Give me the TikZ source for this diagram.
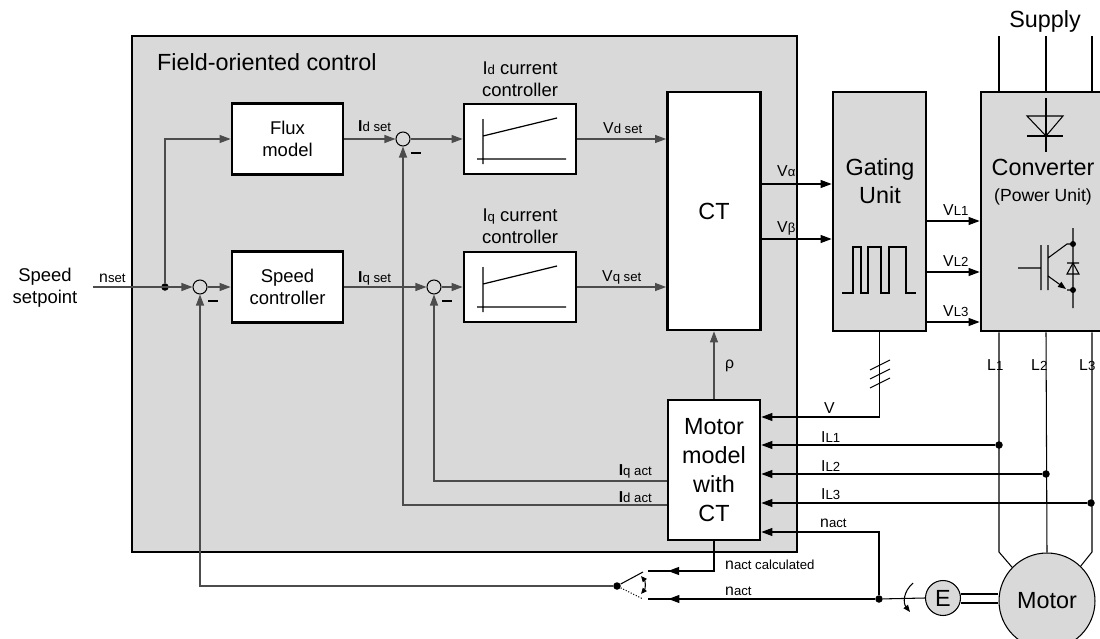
\documentclass[tikz,border=0pt]{standalone}
\usepackage{fontspec}
\setmainfont{Liberation Sans}
\usepackage{tikz}
\usetikzlibrary{arrows.meta,calc,decorations.markings,positioning}
\definecolor{boxgray}{HTML}{D9D9D9}
\newcommand{\ix}[1]{{\fontsize{7.5}{9}\selectfont #1}}
\newcommand{\bigtxt}{\fontsize{13.3}{16.6}\selectfont}
\newcommand{\midtxt}{\fontsize{10.5}{12.3}\selectfont}
\newcommand{\lbltxt}{\fontsize{9}{11}\selectfont}
\tikzset{every node/.append style={font=\lbltxt}}
\tikzset{blk/.style={draw, line width=1.6pt, fill=white, align=center, font=\midtxt},
  unit/.style={blk, fill=boxgray},
  sum/.style={draw, circle, inner sep=0pt, minimum size=0.28cm, fill=boxgray, line width=0.6pt},
  dot/.style={circle, fill, inner sep=0pt, minimum size=1.5mm},
  sig/.style={line width=0.6pt, draw=black!70},
  wire/.style={line width=0.6pt, draw=black},
  minus/.style={line width=1.7pt},
  arrowat/.style={postaction={decorate}, decoration={markings, mark=at position #1 with {\arrow{>}}}}}

\begin{document}
\begin{tikzpicture}[x=0.02cm, y=-0.02cm, >={Triangle[length=2.2mm,width=1.6mm]}]
    \useasboundingbox (0,0) rectangle (1100,639);
    \clip (0,0) rectangle (1100,639);

    % field-oriented control
    \node[draw, line width=1.6pt, fill=boxgray, minimum width=13.3cm, minimum height=10.32cm] at (464.5,294) (foc) {};
    \node[anchor=base west, font=\bigtxt] at (151,71) (foctitle) {Field-oriented control};

    \node[blk, minimum width=2.22cm, minimum height=1.42cm] at (287.5,139) (flux) {Flux\\model};
    \node[blk, minimum width=2.22cm, minimum height=1.42cm] at (287.5,287) (spd) {Speed\\controller};
    \node[blk, minimum width=2.24cm, minimum height=1.4cm] at (520,139) (idc) {};
    \node[blk, minimum width=2.24cm, minimum height=1.4cm] at (520,287) (iqc) {};
    \node[blk, minimum width=1.86cm, minimum height=4.76cm, font=\bigtxt] at (714,211) (ct) {CT};
    \node[blk, minimum width=1.84cm, minimum height=2.8cm, font=\bigtxt] at (714,470) (mm) {Motor\\model\\with\\CT};
    \node[align=center, font=\midtxt] at (520,79) (idtxt) {I\ix{d} current\\controller};
    \node[align=center, font=\midtxt] at (520,226) (iqtxt) {I\ix{q} current\\controller};
    \foreach \b in {idc,iqc}
        \draw[line width=0.7pt, shift={(\b.center)}] (-37,-20) -- (-37,25) (-43,20) -- (46,20) (-37,-3) -- (37,-21);

    \node[sum] at (200,287) (s1) {};
    \node[sum] at (403,139) (s2) {};
    \node[sum] at (434,287) (s3) {};
    \foreach \s in {s1,s2,s3}
        \draw[minus] ($(\s.center)+(8,14)$) -- ++(10,0);
    \node[dot] at (165,287) (d0) {};

    % gating unit and converter
    \node[unit, minimum width=1.86cm, minimum height=4.78cm] at (879.5,211.5) (gate) {};
    \node[unit, minimum width=2.6cm, minimum height=4.78cm] at (1046,211.5) (conv) {};
    \node[anchor=base, font=\bigtxt] at (880,175) (gtxt1) {Gating};
    \node[anchor=base, font=\bigtxt] at (880,203) (gtxt2) {Unit};
    \node[anchor=base, font=\bigtxt] at (1043,175) (ctxt1) {Converter};
    \node[anchor=base, font=\fontsize{10}{12}\selectfont] at (1043,201) (ctxt2) {(Power Unit)};
    \draw[wire] (842,293) -- (853,293) -- (853,247) -- (861,247) -- (861,293) -- (868,293) -- (868,247) -- (881,247)
        -- (881,293) -- (889,293) -- (889,247) -- (906,247) -- (906,293) -- (916,293);
    \draw[wire] (1046,98) -- (1046,152) (1027,136) -- (1063,136);
    \draw[wire] (1027,116) -- (1063,116) -- (1046,136) -- cycle;
    \draw[wire] (1018,268) -- (1041,268) (1041,245) -- (1041,290) (1048,245) -- (1048,290)
        (1048,258) -- (1067,244) -- (1073,244) (1067,290) -- (1073,290) (1073,228) -- (1073,308);
    \draw[wire, -{Triangle[length=1.6mm,width=1.2mm]}] (1048,276) -- (1066,289);
    \draw[wire] (1067,274) -- (1079,274) -- (1073,263) -- cycle (1067,263) -- (1079,263);
    \node[dot, minimum size=1.2mm] at (1073,244) (c1dot) {};
    \node[dot, minimum size=1.2mm] at (1073,290) (c2dot) {};

    % motor and encoder
    \node[draw, circle, fill=boxgray, line width=0.6pt, minimum size=1.92cm, font=\bigtxt] at (1047,601) (motor) {Motor};
    \node[draw, circle, fill=boxgray, line width=0.6pt, minimum size=0.7cm, inner sep=0pt, font=\bigtxt] at (943,598) (enc) {E};
    \draw[wire] (enc.east |- 0,594) -- (motor.west |- 0,594) (enc.east |- 0,603) -- (motor.west |- 0,603);
    \draw[wire, -{Triangle[length=1.4mm,width=1.1mm]}] (913,583) .. controls (903,592) and (903,603) .. (910,612);

    \foreach \x/\n in {999/1,1046/2,1092/3} {
        \coordinate (sup\n) at (\x,36);
        \draw[wire] (sup\n) -- (sup\n |- conv.north);
    }
    \node[anchor=base, font=\bigtxt] at (1045,28) (supply) {Supply};
    \draw[wire] (conv.south -| sup1) -- (999,552) -- (motor.136);
    \draw[wire] (conv.south -| sup2) -- (motor.north);
    \draw[wire] (conv.south -| sup3) -- (1092,552) -- (motor.46);
    \node[anchor=base west] at (981,370) (l1) {L\ix{1}};
    \node[anchor=base west] at (1025,370) (l2) {L\ix{2}};
    \node[anchor=base west] at (1073,370) (l3) {L\ix{3}};

    % signals
    \coordinate (nin) at (93,287);
    \node[anchor=base west] at (93,282) (nset) {n\ix{set}};
    \node[align=center, font=\midtxt] at (45,288) (spt) {Speed\\setpoint};
    \draw[sig,->] (nin) -- (s1.west);
    \draw[sig,->] (d0) |- (flux.west);
    \draw[sig,->] (s1.east) -- (spd.west);
    \draw[sig,->] (flux.east) -- (s2.west);
    \draw[sig,->] (s2.east) -- (idc.west);
    \draw[sig,->] (idc.east) -- (ct.west |- idc);
    \draw[sig,->] (spd.east) -- (s3.west);
    \draw[sig,->] (s3.east) -- (iqc.west);
    \draw[sig,->] (iqc.east) -- (ct.west |- iqc);
    \draw[sig,->] (mm.north) -- (ct.south);
    \node[anchor=base west] at (352,132) (idset) {\textbf{I}\ix{d set}};
    \node[anchor=base west] at (352,282) (iqset) {\textbf{I}\ix{q set}};
    \node[anchor=base west] at (597,133) (vdset) {V\ix{d set}};
    \node[anchor=base west] at (596,281) (vqset) {V\ix{q set}};
    \node[anchor=base west] at (719,368) (rho) {ρ};

    \draw[sig,->] (mm.west |- 0,481) -| (s3.south);
    \draw[sig,->] (mm.west |- 0,505) -| (s2.south);
    \node[anchor=base east] at (658,475) (iqact) {\textbf{I}\ix{q act}};
    \node[anchor=base east] at (658,502) (idact) {\textbf{I}\ix{d act}};

    \draw[wire,->] (ct.east |- 0,184) -- (gate.west |- 0,184);
    \draw[wire,->] (ct.east |- 0,239) -- (gate.west |- 0,239);
    \node[anchor=base west] at (771,176) (va) {V\ix{α}};
    \node[anchor=base west] at (771,232) (vb) {V\ix{β}};
    \foreach \y/\n in {221/1,272/2,322/3} {
        \draw[wire,->] (gate.east |- 0,\y) -- (conv.west |- 0,\y);
        \node[anchor=base west] at (937,\y-6) (vl\n) {V\ix{L\n}};
    }

    % feedback to motor model
    \draw[wire,->] (gate.south) |- (mm.east |- 0,417);
    \foreach \y in {365,374,383}
        \draw[wire] (870,\y+5) -- (890,\y-5);
    \node[dot] at (999,445) (dl1) {};
    \node[dot] at (1046,474) (dl2) {};
    \node[dot] at (1091,503) (dl3) {};
    \foreach \n in {1,2,3}
        \draw[wire,->] (dl\n) -- (mm.east |- dl\n);
    \node[anchor=base west] at (818,413) (vtxt) {V};
    \node[anchor=base west] at (815,442) (il1) {I\ix{L1}};
    \node[anchor=base west] at (815,471) (il2) {I\ix{L2}};
    \node[anchor=base west] at (815,499) (il3) {I\ix{L3}};
    \node[anchor=base west] at (814,527) (nact1) {n\ix{act}};

    % speed feedback and switch
    \node[dot] at (879,599) (dn) {};
    \coordinate (k1) at (648,571);
    \coordinate (k2) at (648,599);
    \draw[wire,->] (dn) |- (mm.east |- 0,532);
    \draw[wire] (enc.west) -- (dn);
    \draw[wire, arrowat=0.91] (dn) -- (k2);
    \draw[wire, arrowat=0.79] (mm.south) |- (k1);
    \node[anchor=base west] at (719,569) (nactc) {n\ix{act calculated}};
    \node[anchor=base west] at (719,595) (nact2) {n\ix{act}};
    \node[dot] at (617,586) (sw) {};
    \draw[wire] (sw) -- (643,572);
    \draw[wire, densely dotted] (sw) -- (643,599);
    \draw[wire, {Triangle[length=1.2mm,width=1mm]}-{Triangle[length=1.2mm,width=1mm]}] (641,576) to[bend left=40] (641,594);
    \draw[sig,->] (sw) -| (s1.south);
\end{tikzpicture}
\end{document}
